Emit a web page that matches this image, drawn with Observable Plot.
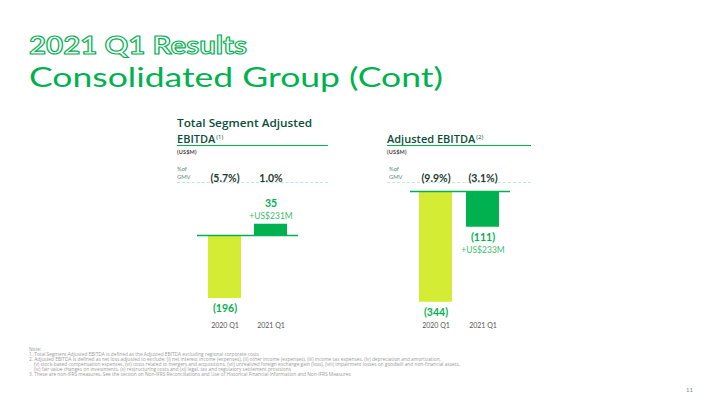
<!DOCTYPE html>
<html>
<head>
<meta charset="utf-8">
<script src="https://cdn.jsdelivr.net/npm/d3@7"></script>
<script src="https://cdn.jsdelivr.net/npm/@observablehq/plot@0.6"></script>
<style>
  html, body { margin: 0; padding: 0; background: #fff; }
  #page { position: relative; width: 720px; height: 404px; overflow: hidden; font-family: "Lato", "Open Sans", sans-serif; }
  .abs { position: absolute; white-space: nowrap; }
  .fit { transform-origin: 0 0; }
  .t1 { left: 29px; top: 29px; font-size: 25px; font-weight: 700; color: #fff; -webkit-text-stroke: 1.1px #00b14f; line-height: 30px; }
  .t2 { left: 29px; top: 62px; font-size: 26px; font-weight: 400; color: #00b14f; line-height: 30px; }
  .hdr { font-family: "Open Sans", sans-serif; font-size: 11px; font-weight: 600; color: #0b4f3a; line-height: 14px; }
  .hdr sup { font-size: 6px; font-weight: 400; vertical-align: 4px; margin-left: 1px; }
  .uline { height: 0; border-top: 1.3px solid #00b14f; }
  .unit { font-size: 5.5px; font-weight: 700; color: #444; letter-spacing: 0.2px; }
  .gmv { font-size: 5.8px; color: #5b8a74; line-height: 8px; }
  .dash { height: 0; border-top: 1px dashed #c3e3f0; }
  .notes { left: 29px; top: 347px; font-size: 4.8px; line-height: 5px; color: #9a9a9a; font-family: "Open Sans", sans-serif; }
  .pg { left: 686px; top: 386px; font-size: 6px; color: #888; }
</style>
</head>
<body>
<div id="page">
  <div class="abs t1 fit" data-w="218">2021 Q1 Results</div>
  <div class="abs t2 fit" data-w="414">Consolidated Group (Cont)</div>

  <div class="abs hdr" style="left:177px; top:116px;"><span class="fit" data-w="135" style="display:inline-block">Total Segment Adjusted</span><br>EBITDA<sup>(1)</sup></div>
  <div class="abs uline" style="left:177px; top:144.5px; width:151px;"></div>
  <div class="abs unit" style="left:177px; top:149px;">(US$M)</div>
  <div class="abs gmv" style="left:177px; top:165px;">%of<br>GMV</div>
  <div class="abs dash" style="left:177px; top:181.5px; width:151px;"></div>

  <div class="abs hdr" style="left:387px; top:130px;">Adjusted EBITDA<sup>(2)</sup></div>
  <div class="abs uline" style="left:387px; top:144.5px; width:144px;"></div>
  <div class="abs unit" style="left:387px; top:149px;">(US$M)</div>
  <div class="abs gmv" style="left:389px; top:165px;">%of<br>GMV</div>
  <div class="abs dash" style="left:387px; top:181.5px; width:144px;"></div>

  <div id="chart1" class="abs" style="left:165px; top:160px;"></div>
  <div id="chart2" class="abs" style="left:386px; top:160px;"></div>

  <div class="abs notes">Note:<br>
1. Total Segment Adjusted EBITDA is defined as the Adjusted EBITDA excluding regional corporate costs<br>
2. Adjusted EBITDA is defined as net loss adjusted to exclude: (i) net interest income (expenses), (ii) other income (expenses), (iii) income tax expenses, (iv) depreciation and amortization,<br>
&nbsp;&nbsp;&nbsp;&nbsp;(v) stock-based compensation expenses, (vi) costs related to mergers and acquisitions, (vii) unrealized foreign exchange gain (loss), (viii) impairment losses on goodwill and non-financial assets,<br>
&nbsp;&nbsp;&nbsp;&nbsp;(ix) fair value changes on investments, (x) restructuring costs and (xi) legal, tax and regulatory settlement provisions<br>
3. These are non-IFRS measures. See the section on Non-IFRS Reconciliations and Use of Historical Financial Information and Non-IFRS Measures</div>
  <div class="abs pg">11</div>
</div>

<script>
// ---- data ----
const categories = ["2020 Q1", "2021 Q1"];

const segmentValues = [-196, 35];
const segmentLabels = ["(196)", "35"];
const segmentGmv = ["(5.7%)", "1.0%"];
const segmentChange = "+US$231M";

const adjustedValues = [-344, -111];
const adjustedLabels = ["(344)", "(111)"];
const adjustedGmv = ["(9.9%)", "(3.1%)"];
const adjustedChange = "+US$233M";

const barColors = ["#d4ed34", "#00b14f"];
const green = "#00b14f";

// stretch wide display text horizontally to the width it has in the slide
document.querySelectorAll(".fit").forEach(el => {
  const target = +el.dataset.w;
  const w = el.getBoundingClientRect().width;
  if (w > 0) el.style.transform = `scaleX(${target / w})`;
});

function makeChart(values, labels, gmv, change, opts) {
  const rows = categories.map((c, i) => ({ cat: c, value: values[i], label: labels[i], gmv: gmv[i] }));
  const last = rows[rows.length - 1];
  const changeRow = [{ cat: last.cat, value: last.value, text: change }];
  const pxPerUnit = 0.322;
  const num = { fontSize: 10.5, fontWeight: 700, fill: green, style: "letter-spacing:0.7px" };
  return Plot.plot({
    width: opts.width,
    height: 180,
    marginLeft: opts.marginLeft,
    marginRight: opts.marginRight,
    marginTop: 14,
    marginBottom: 20,
    style: { fontFamily: "Lato, 'Open Sans', sans-serif", fontSize: "7px", color: "#555", background: "transparent", overflow: "visible" },
    x: { domain: categories, padding: opts.padding, label: null, tickSize: 0, tickPadding: 3 },
    y: { domain: [-300, 0], range: [opts.base + 300 * pxPerUnit, opts.base], axis: null },
    color: { domain: categories, range: barColors },
    marks: [
      Plot.barY(rows, { x: "cat", y: "value", fill: "cat" }),
      Plot.ruleY([0], { stroke: green, strokeWidth: 1.4, insetLeft: opts.insetL, insetRight: opts.insetR }),
      Plot.text(rows, { x: "cat", text: "gmv", frameAnchor: "top", fontSize: 10.5, fontWeight: 700, fill: "#1f3a2e", style: "letter-spacing:0.8px" }),
      Plot.text(rows.filter(d => d.value < 0), { x: "cat", y: "value", text: "label", dy: 10, ...num }),
      Plot.text(rows.filter(d => d.value >= 0), { x: "cat", y: "value", text: "label", dy: -21, ...num }),
      Plot.text(changeRow.filter(d => d.value < 0), { x: "cat", y: "value", text: "text", dy: 23, fontSize: 8.5, fill: "#3dbd6e" }),
      Plot.text(changeRow.filter(d => d.value >= 0), { x: "cat", y: "value", text: "text", dy: -8, fontSize: 8.5, fill: "#3dbd6e" })
    ]
  });
}

document.getElementById("chart1").append(
  makeChart(segmentValues, segmentLabels, segmentGmv, segmentChange,
    { width: 165, marginLeft: 29, marginRight: 29, padding: 0.28, base: 75, insetL: 3, insetR: 3 })
);
document.getElementById("chart2").append(
  makeChart(adjustedValues, adjustedLabels, adjustedGmv, adjustedChange,
    { width: 145, marginLeft: 18, marginRight: 17, padding: 0.3, base: 31, insetL: 6, insetR: 4 })
);
</script>
</body>
</html>
